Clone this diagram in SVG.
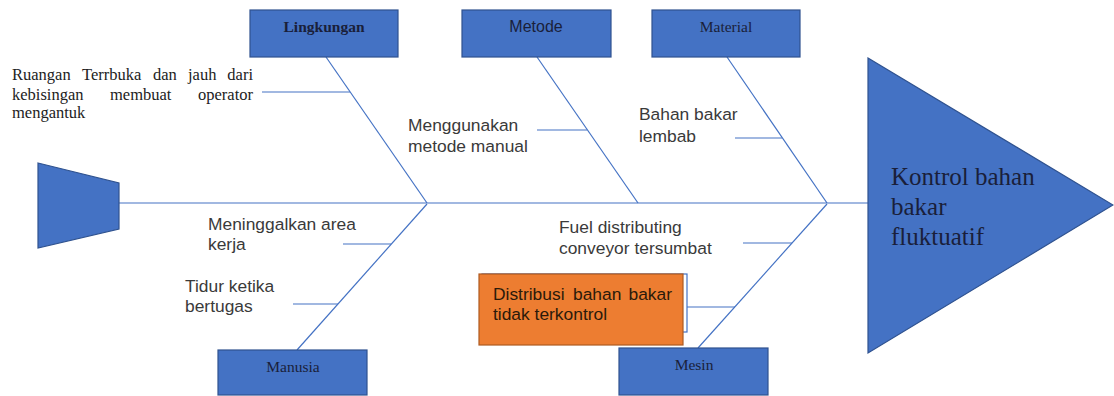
<svg xmlns="http://www.w3.org/2000/svg" width="1114" height="396" viewBox="0 0 1114 396">
<style>
.box{fill:#4472C4;stroke:#2F528F;stroke-width:1.2}
.bl{fill:#1a1f3a;font-family:"Liberation Serif",serif;font-size:15.5px;text-anchor:middle}
.bs{fill:#1a1f3a;font-family:"Liberation Sans",sans-serif;font-size:16px;text-anchor:middle}
.ln{stroke:#4472C4;stroke-width:1.2;fill:none}
.t{fill:#3a3a3a;font-family:"Liberation Sans",sans-serif;font-size:17.4px}
.ts{fill:#222;font-family:"Liberation Serif",serif;font-size:16.5px}
.to{fill:#2b1a0a;font-family:"Liberation Sans",sans-serif;font-size:17.4px}
</style>
<rect width="1114" height="396" fill="#ffffff"/>
<g id="connectors">
<line class="ln" x1="119" y1="203" x2="868" y2="203"/>
<line class="ln" x1="326" y1="57" x2="427" y2="203"/>
<line class="ln" x1="537" y1="57" x2="638" y2="203"/>
<line class="ln" x1="727" y1="57" x2="827" y2="203"/>
<line class="ln" x1="427" y1="204" x2="297" y2="350"/>
<line class="ln" x1="827" y1="204" x2="698" y2="348"/>
<line class="ln" x1="262" y1="92" x2="350" y2="92"/>
<line class="ln" x1="537" y1="130" x2="587" y2="130"/>
<line class="ln" x1="735" y1="138" x2="782" y2="138"/>
<line class="ln" x1="343" y1="244" x2="391" y2="244"/>
<line class="ln" x1="293" y1="304" x2="338" y2="304"/>
<line class="ln" x1="743" y1="243" x2="792" y2="243"/>
<line class="ln" x1="687" y1="307" x2="735" y2="307"/>
</g>
<g id="tail"><polygon class="box" points="38,163 119,183 119,229 38,248"/></g>
<g id="head">
<polygon class="box" points="868,58 1113,205 868,353"/>
<text font-family="Liberation Serif,serif" font-size="25" fill="#1a1f3a"><tspan x="891" y="185">Kontrol bahan</tspan><tspan x="891" y="215">bakar</tspan><tspan x="891" y="245">fluktuatif</tspan></text>
</g>
<g id="lingkungan"><rect class="box" x="250" y="10" width="148" height="47"/><text class="bl" x="324" y="32" font-weight="bold">Lingkungan</text></g>
<g id="metode"><rect class="box" x="462" y="10" width="149" height="47"/><text class="bs" x="536" y="32">Metode</text></g>
<g id="material"><rect class="box" x="652" y="10" width="148" height="47"/><text class="bl" x="726" y="32">Material</text></g>
<g id="manusia"><rect class="box" x="218" y="350" width="149" height="45"/><text class="bl" x="293" y="372">Manusia</text></g>
<g id="mesin"><rect class="box" x="619" y="348" width="149" height="47"/><text class="bl" x="694" y="370">Mesin</text></g>
<g id="cause-ruangan">
<text class="ts" x="12" y="80">Ruangan</text>
<text class="ts" x="82" y="80">Terrbuka</text>
<text class="ts" x="153" y="80">dan</text>
<text class="ts" x="188" y="80">jauh</text>
<text class="ts" x="253" y="80" text-anchor="end">dari</text>
<text class="ts" x="12" y="100">kebisingan</text>
<text class="ts" x="110" y="100">membuat</text>
<text class="ts" x="253" y="100" text-anchor="end">operator</text>
<text class="ts" x="12" y="118">mengantuk</text>
</g>
<g id="cause-metode"><text class="t"><tspan x="408" y="131">Menggunakan</tspan><tspan x="408" y="152">metode manual</tspan></text></g>
<g id="cause-material"><text class="t"><tspan x="639" y="120">Bahan bakar</tspan><tspan x="639" y="142">lembab</tspan></text></g>
<g id="cause-meninggalkan"><text class="t"><tspan x="208" y="230">Meninggalkan area</tspan><tspan x="208" y="250">kerja</tspan></text></g>
<g id="cause-tidur"><text class="t"><tspan x="185" y="292">Tidur ketika</tspan><tspan x="185" y="312">bertugas</tspan></text></g>
<g id="cause-fuel"><text class="t"><tspan x="559" y="233">Fuel distributing</tspan><tspan x="559" y="254">conveyor tersumbat</tspan></text></g>
<g id="cause-distribusi">
<rect x="482" y="274" width="205" height="58" fill="#ffffff" stroke="#4472C4" stroke-width="1.2"/>
<rect x="479" y="274" width="204" height="71" fill="#ED7D31" stroke="#AE5A21" stroke-width="1.2"/>
<text class="to" x="493" y="300">Distribusi</text>
<text class="to" x="573" y="300">bahan</text>
<text class="to" x="672" y="300" text-anchor="end">bakar</text>
<text class="to" x="493" y="320">tidak terkontrol</text>
</g>
</svg>
